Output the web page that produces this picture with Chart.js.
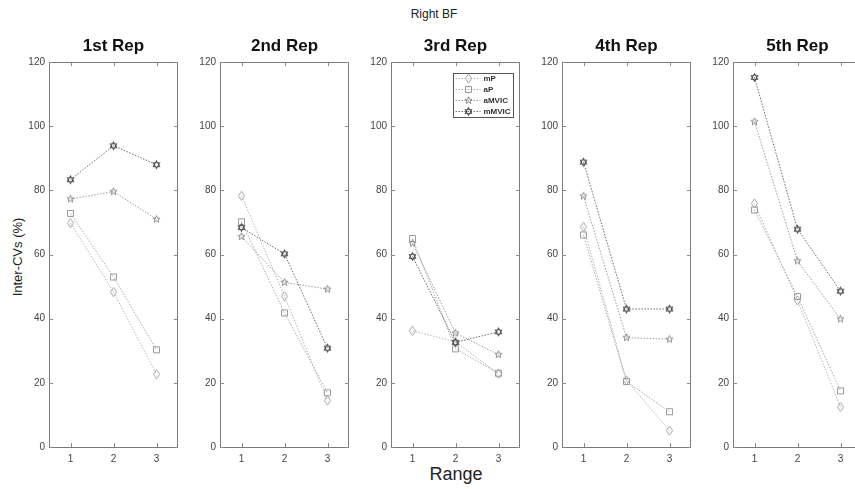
<!DOCTYPE html>
<html>
<head>
<meta charset="utf-8">
<script src="https://cdn.jsdelivr.net/npm/chart.js@4.4.1/dist/chart.umd.min.js"></script>
<style>
  html, body { margin: 0; padding: 0; background: #fff; overflow: hidden; }
  #wrap { width: 855px; height: 489px; position: relative; overflow: hidden; font-family: Arial, "Liberation Sans", sans-serif; }
  canvas { position: absolute; top: 0; }
  .lbl { position: absolute; color: #222; white-space: nowrap; }
  #suptitle { left: 434px; top: 14px; font-size: 12px; transform: translate(-50%, -50%); }
  #xlabel { left: 456px; top: 474px; font-size: 18px; transform: translate(-50%, -50%); }
  #ylabel { left: 17px; top: 257px; font-size: 13px; transform: translate(-50%, -50%) rotate(-90deg); }
</style>
</head>
<body>
<div id="wrap">
<div class="lbl" id="suptitle">Right BF</div>
<div class="lbl" id="xlabel">Range</div>
<div class="lbl" id="ylabel">Inter-CVs (%)</div>
</div>

<script>
// panels and axes
const reps = ["1st Rep", "2nd Rep", "3rd Rep", "4th Rep", "5th Rep"];
const ranges = [1, 2, 3];
const yTicks = [0, 20, 40, 60, 80, 100, 120];
const seriesNames = ["mP", "aP", "aMVIC", "mMVIC"];

// one row per rep, values at range 1, 2, 3
const mP = [
  [69.8, 48.3, 22.7],
  [78.3, 47.0, 14.5],
  [36.2, 32.8, 22.8],
  [68.6, 20.8, 5.1],
  [75.9, 45.7, 12.5],
];
const aP = [
  [72.8, 53.0, 30.3],
  [70.2, 41.8, 16.9],
  [65.0, 30.6, 23.0],
  [66.1, 20.4, 11.0],
  [73.9, 46.9, 17.5],
];
const aMVIC = [
  [77.3, 79.6, 71.0],
  [65.6, 51.3, 49.2],
  [63.5, 35.5, 28.8],
  [78.2, 34.1, 33.6],
  [101.4, 58.0, 39.9],
];
const mMVIC = [
  [83.3, 93.9, 88.0],
  [68.4, 60.2, 30.8],
  [59.4, 32.6, 35.9],
  [88.8, 43.0, 43.0],
  [115.2, 67.9, 48.6],
];

const seriesData = [mP, aP, aMVIC, mMVIC];
const seriesColors = ["#a6a6a6", "#9a9a9a", "#8e8e8e", "#4a4a4a"];
const lineColors = ["#b4b4b4", "#a8a8a8", "#9c9c9c", "#6a6a6a"];
const markerKinds = ["diamond", "square", "pentagram", "hexagram"];

// matlab-ish hollow markers drawn once into small canvases
function makeMarker(kind, color) {
  const c = document.createElement("canvas");
  c.width = 11;
  c.height = 11;
  const g = c.getContext("2d");
  const cx = 5.5, cy = 5.5;
  g.strokeStyle = color;
  g.lineWidth = kind === "hexagram" ? 1.3 : 1;
  g.beginPath();
  if (kind === "diamond") {
    g.moveTo(cx, cy - 4.6);
    g.lineTo(cx + 3.1, cy);
    g.lineTo(cx, cy + 4.6);
    g.lineTo(cx - 3.1, cy);
  } else if (kind === "square") {
    g.rect(cx - 3, cy - 3, 6, 6);
  } else {
    const pts = kind === "pentagram" ? 5 : 6;
    const outer = kind === "pentagram" ? 3.8 : 3.4;
    const inner = kind === "pentagram" ? outer * 0.42 : outer * 0.6;
    for (let i = 0; i < pts * 2; i++) {
      const r = i % 2 === 0 ? outer : inner;
      const a = -Math.PI / 2 + (i * Math.PI) / pts;
      const x = cx + r * Math.cos(a);
      const y = cy + r * Math.sin(a);
      if (i === 0) g.moveTo(x, y);
      else g.lineTo(x, y);
    }
  }
  g.closePath();
  g.stroke();
  return c;
}

const markers = markerKinds.map((k, i) => makeMarker(k, seriesColors[i]));

const plotLefts = [49, 220, 391, 562, 733];
const plotWidth = 129;
const yAxisW = 40;
const padRight = 12;

// box, inward ticks, panel title and (panel 3) legend
const matlabAxes = {
  id: "matlabAxes",
  afterDraw(chart, args, opts) {
    const { ctx, chartArea: a, scales } = chart;
    ctx.save();
    ctx.strokeStyle = "#7a7a7a";
    ctx.lineWidth = 1;
    ctx.strokeRect(Math.round(a.left) + 0.5, Math.round(a.top) + 0.5,
      Math.round(a.right - a.left) - 1, Math.round(a.bottom - a.top));
    ctx.strokeStyle = "#8a8a8a";
    ctx.beginPath();
    scales.x.ticks.forEach((t) => {
      const x = Math.round(scales.x.getPixelForValue(t.value)) + 0.5;
      ctx.moveTo(x, a.bottom);
      ctx.lineTo(x, a.bottom - 4);
      ctx.moveTo(x, a.top);
      ctx.lineTo(x, a.top + 4);
    });
    scales.y.ticks.forEach((t) => {
      const y = Math.round(scales.y.getPixelForValue(t.value)) + 0.5;
      ctx.moveTo(a.left, y);
      ctx.lineTo(a.left + 4, y);
      ctx.moveTo(a.right, y);
      ctx.lineTo(a.right - 4, y);
    });
    ctx.stroke();

    ctx.fillStyle = "#111";
    ctx.font = "bold 17px Arial, 'Liberation Sans', sans-serif";
    ctx.textAlign = "center";
    ctx.textBaseline = "alphabetic";
    ctx.fillText(opts.title, (a.left + a.right) / 2, 51);

    if (opts.legend) {
      const bw = 60, bh = 44;
      const bx = Math.round(a.right - 7 - bw) + 0.5;
      const by = Math.round(a.top + 11) + 0.5;
      ctx.fillStyle = "#fff";
      ctx.fillRect(bx, by, bw, bh);
      ctx.strokeStyle = "#555";
      ctx.strokeRect(bx, by, bw, bh);
      ctx.font = "bold 8px Arial, 'Liberation Sans', sans-serif";
      ctx.textAlign = "left";
      ctx.textBaseline = "middle";
      chart.data.datasets.forEach((ds, i) => {
        const y = by + 5 + i * 11;
        ctx.strokeStyle = ds.borderColor;
        ctx.setLineDash([1.5, 1.5]);
        ctx.beginPath();
        ctx.moveTo(bx + 2, y);
        ctx.lineTo(bx + 27, y);
        ctx.stroke();
        ctx.setLineDash([]);
        ctx.drawImage(ds.pointStyle, bx + 15 - 5.5, y - 5.5);
        ctx.fillStyle = "#333";
        ctx.fillText(ds.label, bx + 30, y);
      });
    }
    ctx.restore();
  },
};

const wrap = document.getElementById("wrap");

reps.forEach((rep, p) => {
  const canvas = document.createElement("canvas");
  canvas.width = yAxisW + plotWidth + padRight;
  canvas.height = 489;
  canvas.style.left = plotLefts[p] - yAxisW + "px";
  wrap.appendChild(canvas);

  const datasets = seriesNames.map((name, s) => ({
    label: name,
    data: ranges.map((r, k) => ({ x: r, y: seriesData[s][p][k] })),
    borderColor: lineColors[s],
    borderWidth: 1,
    borderDash: [1.5, 1.5],
    pointStyle: markers[s],
    pointRadius: 4,
    pointHoverRadius: 4,
    fill: false,
    tension: 0,
    order: seriesNames.length - s,
  }));

  new Chart(canvas, {
    type: "line",
    data: { datasets },
    options: {
      responsive: false,
      animation: false,
      events: [],
      layout: { padding: { top: 62, bottom: 18, left: 0, right: padRight } },
      plugins: {
        legend: { display: false },
        title: { display: false },
        tooltip: { enabled: false },
        matlabAxes: { title: rep, legend: p === 2 },
      },
      scales: {
        x: {
          type: "linear",
          min: 0.5,
          max: 3.5,
          afterBuildTicks: (scale) => {
            scale.ticks = ranges.map((v) => ({ value: v }));
          },
          afterFit: (scale) => {
            scale.height = 24;
          },
          grid: { display: false, drawTicks: false },
          border: { display: false },
          ticks: { color: "#444", font: { size: 10, family: "Arial, 'Liberation Sans', sans-serif" }, padding: 6, maxRotation: 0 },
        },
        y: {
          min: 0,
          max: 120,
          afterBuildTicks: (scale) => {
            scale.ticks = yTicks.map((v) => ({ value: v }));
          },
          afterFit: (scale) => {
            scale.width = yAxisW;
          },
          grid: { display: false, drawTicks: false },
          border: { display: false },
          ticks: { color: "#444", font: { size: 10, family: "Arial, 'Liberation Sans', sans-serif" }, padding: 4 },
        },
      },
    },
    plugins: [matlabAxes],
  });
});
</script>
</body>
</html>
